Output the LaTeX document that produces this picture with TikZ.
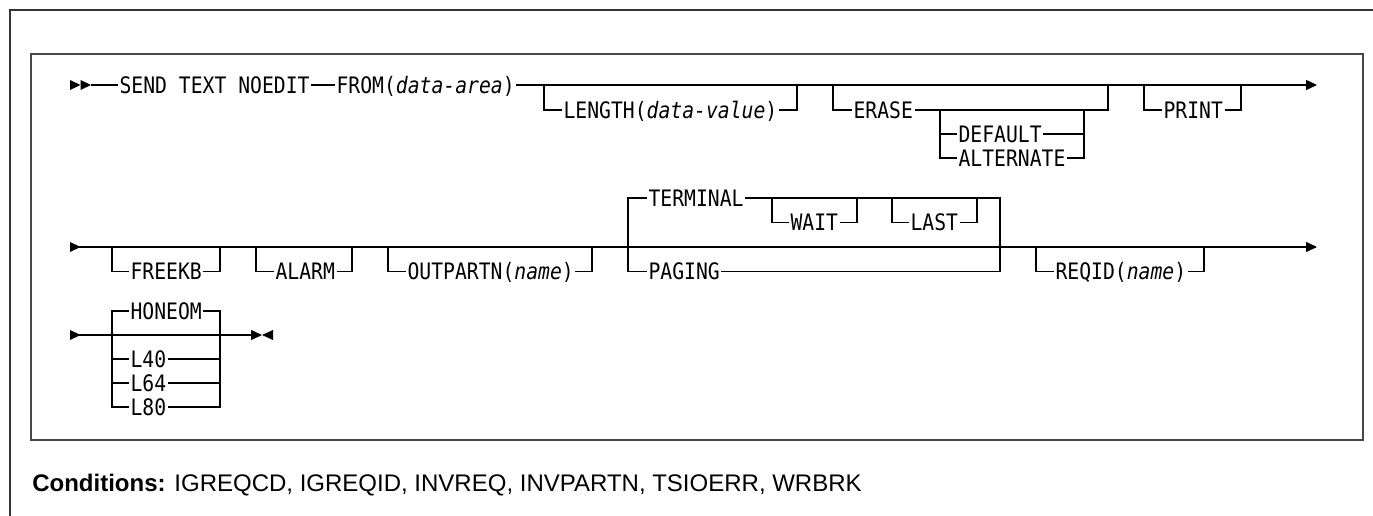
\documentclass[tikz,border=0pt]{standalone}
\usepackage{fontspec}
\usepackage{xcolor}
\usepackage{tikz}
\usetikzlibrary{arrows.meta}
\newfontfamily\railfont[FakeStretch=0.87]{DejaVu Sans Mono}
\newfontfamily\condfont{Liberation Sans}
\definecolor{cRail}{HTML}{000000}
\definecolor{cFrame}{HTML}{474747}
\definecolor{cOuter}{HTML}{333333}
\tikzset{
  kw/.style      ={font=\railfont\fontsize{17}{20}\selectfont, text=black, anchor=west,
                   inner xsep=1pt, inner ysep=0pt, text height=12.4pt, text depth=0pt},
  rail/.style    ={draw=cRail, line width=0.9pt},
  mainrail/.style={rail, -{Triangle[length=8.2pt,width=7.5pt]}},
  frame/.style   ={draw=cFrame, line width=1.5pt},
  outer/.style   ={draw=cOuter, line width=1.1pt},
  cond/.style    ={font=\condfont\fontsize{18}{22}\selectfont, anchor=base west, inner sep=0pt},
}
% filled heads: base centre given, pointing right / left
\newcommand{\headR}[1]{\fill[cRail] (#1) ++(0,-5) -- ++(10.5,5) -- ++(-10.5,5) -- cycle;}
\newcommand{\headL}[1]{\fill[cRail] (#1) ++(0,-5) -- ++(-11,5) -- ++(11,5) -- cycle;}

\begin{document}
\begin{tikzpicture}[x=0.75pt, y=-0.75pt]

  \useasboundingbox (0,0) rectangle (1373,516);

  % ---- frames ----
  \draw[outer] (10,516) -- (10,10) -- (1373,10);
  \draw[frame] (31,54) rectangle (1363,440);

  % ---- row 1 ----
  \coordinate (r1s) at (91,85);
  \coordinate (r1e) at (1317,85);
  \headR{70,85}
  \headR{80.5,85}
  \node[kw] (send) at (118,85) {SEND TEXT NOEDIT};
  \node[kw] (from) at (335,85) {FROM(\textit{data-area})};
  \node[kw] (len) at (562,110) {LENGTH(\textit{data-value})};
  \node[kw] (erase) at (852,110) {ERASE};
  \node[kw] (dflt) at (957,134) {DEFAULT};
  \node[kw] (alt) at (957,158) {ALTERNATE};
  \node[kw] (print) at (1162,110) {PRINT};

  \draw[rail] (r1s) -- (send.west);
  \draw[rail] (send.east) -- (from.west);
  \draw[mainrail] (from.east) -- (r1e);
  \draw[rail] (544,85) |- (len.west);
  \draw[rail] (len.east) -| (797,85);
  \draw[rail] (833,85) |- (erase.west);
  \draw[rail] (erase.east) -| (1108,85);
  \draw[rail] (940,110) |- (dflt.west);
  \draw[rail] (940,110) |- (alt.west);
  \draw[rail] (dflt.east) -| (1084,110);
  \draw[rail] (alt.east) -| (1084,110);
  \draw[rail] (1144,85) |- (print.west);
  \draw[rail] (print.east) -| (1241,85);

  % ---- row 2 ----
  \coordinate (r2s) at (72,247);
  \coordinate (r2e) at (1317,247);
  \headR{70,247}
  \node[kw] (freekb) at (129,271.5) {FREEKB};
  \node[kw] (alarm) at (274,271.5) {ALARM};
  \node[kw] (outp) at (406,271.5) {OUTPARTN(\textit{name})};
  \node[kw] (term) at (647,198) {TERMINAL};
  \node[kw] (wait) at (789,222.5) {WAIT};
  \node[kw] (last) at (909,222.5) {LAST};
  \node[kw] (paging) at (647,271.5) {PAGING};
  \node[kw] (reqid) at (1054,271.5) {REQID(\textit{name})};

  \draw[mainrail] (r2s) -- (r2e);
  \draw[rail] (112,247) |- (freekb.west);
  \draw[rail] (freekb.east) -| (220,247);
  \draw[rail] (256,247) |- (alarm.west);
  \draw[rail] (alarm.east) -| (352,247);
  \draw[rail] (388,247) |- (outp.west);
  \draw[rail] (outp.east) -| (592,247);
  \draw[rail] (term.west) -| (628,271.5) -- (paging.west);
  \draw[rail] (term.east) -| (1000,271.5) -- (paging.east);
  \draw[rail] (772,198) |- (wait.west);
  \draw[rail] (wait.east) -| (857,198);
  \draw[rail] (892,198) |- (last.west);
  \draw[rail] (last.east) -| (977,198);
  \draw[rail] (1036,247) |- (reqid.west);
  \draw[rail] (reqid.east) -| (1204,247);

  % ---- row 3 ----
  \coordinate (r3s) at (72,335);
  \coordinate (r3e) at (262,335);
  \headR{70,335}
  \headL{273,335}
  \node[kw] (honeom) at (129,311) {HONEOM};
  \node[kw] (lforty) at (129,359) {L40};
  \node[kw] (lsixty) at (129,383) {L64};
  \node[kw] (leighty) at (129,407) {L80};

  \draw[mainrail] (r3s) -- (r3e);
  \draw[rail] (honeom.west) -| (112,407) -- (leighty.west);
  \draw[rail] (honeom.east) -| (220,407) -- (leighty.east);
  \draw[rail] (112,359) -- (lforty.west);
  \draw[rail] (112,383) -- (lsixty.west);
  \draw[rail] (lforty.east) -- (220,359);
  \draw[rail] (lsixty.east) -- (220,383);

  % ---- conditions ----
  \node[cond] (conds) at (32,491)
    {\textbf{Conditions:} IGREQCD, IGREQID, INVREQ, INVPARTN, TSIOERR, WRBRK};

\end{tikzpicture}
\end{document}
